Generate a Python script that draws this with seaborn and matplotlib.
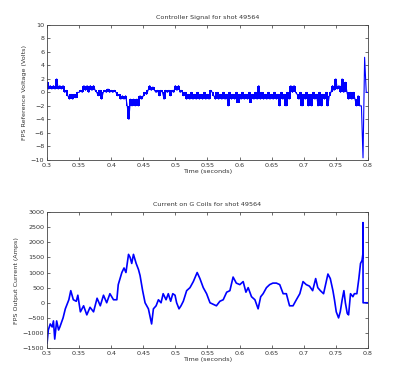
import matplotlib
matplotlib.use("Agg")
import matplotlib.pyplot as plt
import seaborn as sns
import numpy as np
import pandas as pd

# DATA

shot = 49564

# controller signal, one value every 2.5 ms from 0.3 s
volt_values = [
    1.5, 0.5, 1, 0.5,   1, 0.5, 2, 0.5,   1, 0.5, 1, 0,   0.3, -0.5, -1, -0.3,
    -1, -0.3, -0.8, 0,   0, 0.3, 0, 1,   0.3, 1, 0, 1,   0.3, 1, 0.3, 0,
    -0.5, 0.3, -1, 0,   0.3, 0, 0.5, 0,   0.3, 0, 0.3, 0,   -0.5, -0.3, -1, -0.5,
    -1, -0.5, -2, -4,   -1, -2, -1, -2,   -1, -2, -0.5, -1,   -0.5, 0, -0.3, 0.3,
    1, 0.3, 0.8, 0.3,   0, 0.3, -0.5, 0.3,   0, -1, 0.3, 0,   0.3, -0.5, 0.3, 0,
    1, 0.3, 1, 0,   0.3, -0.5, 0, -1,   -0.3, -1, 0, -1,   -0.3, -1, 0, -1,
    -0.3, -1, 0, -1,   -0.3, -1, 0.3, 0,   -0.5, -1, 0, -1,   -0.3, -1, 0, -1,
    -0.3, -2, 0, -1,   -0.3, -1, 0, -1.5,   -0.3, -1, 0, -1,   -0.3, -1, 0, -1.5,
    -0.3, -1, 0, -1,   1, -1, 0, -1,   -0.3, -1, 0, -1,   -0.3, -1, 0, -1,
    -0.3, -2, 0, -1,   -0.3, -2, 0, -1,   1, 0, 1, 0,   -0.3, -1, 0, -2,
    -0.3, -1, 0, -2,   -0.3, -2, 0, -1,   -0.3, -2, 0, -2,   -0.3, -1, 0, -2,
    -0.5, 0, 1, 0.3,   2, 0.5, 1, 0,   2, 0, 1.5, 0,   -1, 0, -1, 0,
    -1, -2, -0.5, -2,   -2, -9.7, 5.2, 0,   0,
]
volt_time = np.round(0.3 + 0.0025 * np.arange(len(volt_values)), 4)

# G coil current
cur_time = [
    0.300, 0.302, 0.305, 0.308, 0.310, 0.312, 0.315, 0.318, 0.320, 0.325,
    0.3285, 0.334, 0.337, 0.341, 0.3456, 0.348, 0.352, 0.357, 0.362, 0.367,
    0.3725, 0.378, 0.383, 0.388, 0.393, 0.398, 0.4036, 0.4088, 0.411, 0.4166,
    0.420, 0.423, 0.427, 0.4295, 0.432, 0.4347, 0.4389, 0.4425, 0.445, 0.449,
    0.4528, 0.458, 0.463, 0.4658, 0.470, 0.4736, 0.4777, 0.481, 0.4855, 0.489,
    0.4927, 0.496, 0.4995, 0.502, 0.5057, 0.5088, 0.5124, 0.5176, 0.5228, 0.528,
    0.534, 0.5383, 0.5435, 0.5487, 0.554, 0.559, 0.564, 0.5694, 0.5746, 0.580,
    0.585, 0.590, 0.595, 0.6005, 0.6057, 0.610, 0.6135, 0.6187, 0.624, 0.629,
    0.633, 0.6368, 0.642, 0.647, 0.652, 0.6575, 0.6627, 0.668, 0.673, 0.678,
    0.6834, 0.6886, 0.694, 0.699, 0.704, 0.709, 0.714, 0.7187, 0.722, 0.726,
    0.731, 0.7378, 0.7415, 0.7456, 0.748, 0.7508, 0.7544, 0.757, 0.760, 0.7627,
    0.765, 0.7679, 0.770, 0.773, 0.7767, 0.779, 0.7829, 0.786, 0.7886, 0.791,
    0.7922, 0.7924, 0.7926, 0.800,
]
cur_values = [
    -1350, -900, -700, -800, -600, -1200, -600, -900, -800, -500,
    -200, 100, 400, 100, 50, 250, -300, -100, -400, -150,
    -300, 150, -100, 250, 0, 300, 100, 100, 600, 1000,
    1150, 1000, 1600, 1500, 1300, 1600, 1300, 1100, 900, 400,
    0, -200, -700, -200, -100, 100, 0, 300, 100, 300,
    50, 300, 250, 0, -200, -100, 50, 400, 500, 700,
    1000, 800, 500, 300, 0, -50, -100, 50, 100, 350,
    400, 850, 650, 600, 700, 350, 500, 200, 100, -200,
    200, 300, 500, 600, 650, 650, 600, 300, 300, -100,
    -100, 100, 300, 700, 600, 550, 400, 800, 500, 400,
    300, 950, 800, 400, 100, -300, -500, -300, 100, 400,
    0, -350, -400, 300, 200, 300, 300, 800, 1300, 1400,
    1600, 2650, 0, 0,
]

x_ticks = [0.3, 0.35, 0.4, 0.45, 0.5, 0.55, 0.6, 0.65, 0.7, 0.75, 0.8]
x_labels = ["0.3", "0.35", "0.4", "0.45", "0.5", "0.55", "0.6", "0.65", "0.7", "0.75", "0.8"]

# STYLE

sns.set_style("ticks")
plt.rcParams['font.family'] = ['DejaVu Sans']
plt.rcParams['font.size'] = 4.6
plt.rcParams['axes.linewidth'] = 0.6
plt.rcParams['xtick.direction'] = 'in'
plt.rcParams['ytick.direction'] = 'in'
plt.rcParams['xtick.major.size'] = 2.5
plt.rcParams['ytick.major.size'] = 2.5
plt.rcParams['xtick.major.width'] = 0.5
plt.rcParams['ytick.major.width'] = 0.5
plt.rcParams['xtick.top'] = True
plt.rcParams['ytick.right'] = True
tick_col = "#333333"
blue = "#0000ff"

fig = plt.figure(figsize=(4.02, 3.89), dpi=100)
ax1 = fig.add_axes([0.117, 0.589, 0.798, 0.347])
ax2 = fig.add_axes([0.117, 0.105, 0.798, 0.350])

df_v = pd.DataFrame({"t": volt_time, "v": volt_values})
df_c = pd.DataFrame({"t": cur_time, "c": cur_values})

# controller output switches fast between levels -> draw the band it fills
v = np.array(volt_values)
band_lo = np.minimum(v[:-1], v[1:])
band_hi = np.maximum(v[:-1], v[1:])
nb = len(band_lo) - 4  # leave the final spike as a thin line
ax1.fill_between(volt_time[:nb], band_lo[:nb], band_hi[:nb], step="post",
                 color=blue, linewidth=0)
sns.lineplot(data=df_v, x="t", y="v", ax=ax1, color=blue, linewidth=0.8,
             estimator=None, sort=False)
sns.lineplot(data=df_c, x="t", y="c", ax=ax2, color=blue, linewidth=1.2,
             estimator=None, sort=False)

ax1.set_ylim(-10, 10)
ax1.set_yticks(np.arange(-10, 11, 2))
ax1.set_ylabel("FPS Reference Voltage (Volts)", color=tick_col, labelpad=3)
ax1.set_title("Controller Signal for shot %d" % shot, color=tick_col, pad=4, fontsize=4.6)

ax2.set_ylim(-1500, 3000)
ax2.set_yticks(np.arange(-1500, 3001, 500))
ax2.set_ylabel("FPS Output Current (Amps)", color=tick_col, labelpad=3)
ax2.set_title("Current on G Coils for shot %d" % shot, color=tick_col, pad=4, fontsize=4.6)

for ax in (ax1, ax2):
    ax.set_xlim(0.3, 0.8)
    ax.set_xticks(x_ticks)
    ax.set_xticklabels(x_labels)
    ax.set_xlabel("Time (seconds)", color=tick_col, labelpad=1)
    ax.tick_params(colors=tick_col, labelsize=4.6, pad=2)
    for s in ax.spines.values():
        s.set_visible(True)
        s.set_color("#444444")

fig.savefig("out.png", dpi=100)
